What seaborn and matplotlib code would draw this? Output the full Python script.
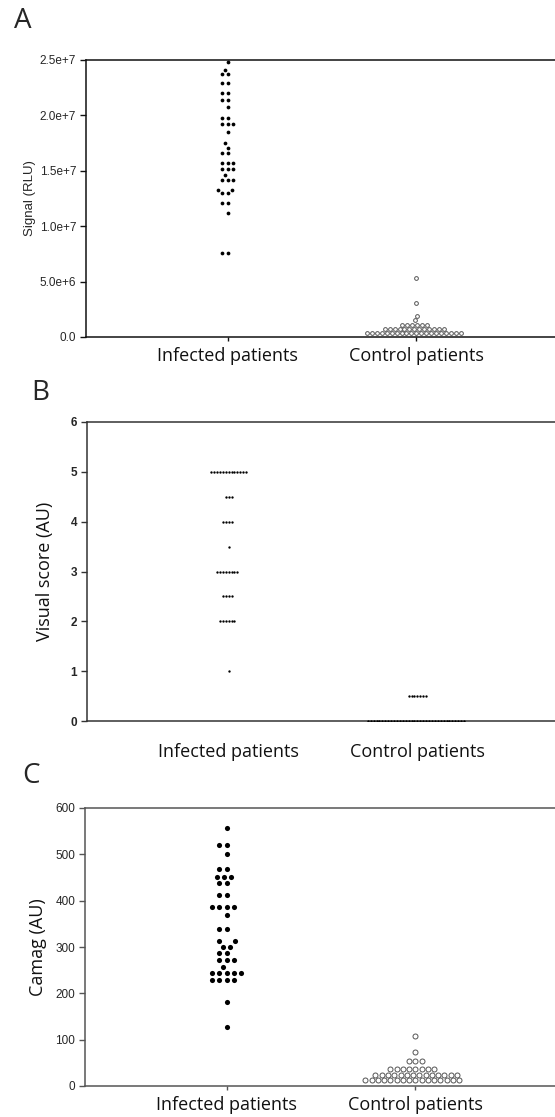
import numpy as np
import pandas as pd
import matplotlib
matplotlib.use("Agg")
import matplotlib.pyplot as plt
import seaborn as sns

# Groups
groups = ["Infected patients", "Control patients"]

# Panel A - signal (RLU), values in millions, with number of patients per level
a_inf_levels = [24.8, 24.1, 23.7, 22.9, 22.0, 21.4, 20.8, 19.8, 19.2, 18.5, 17.5,
                17.1, 16.6, 15.7, 15.2, 14.6, 14.2, 13.3, 13.0, 12.1, 11.2, 7.6]
a_inf_counts = [1, 1, 2, 2, 2, 2, 1, 2, 3, 1, 1,
                1, 2, 3, 3, 1, 3, 2, 2, 2, 1, 2]
a_ctl_levels = [5.3, 3.1, 1.9, 1.5, 1.1, 0.72, 0.33]
a_ctl_counts = [1, 1, 1, 1, 6, 13, 20]
a_ticks = [0, 5e6, 1e7, 1.5e7, 2e7, 2.5e7]
a_ticklabels = ["0.0", "5.0e+6", "1.0e+7", "1.5e+7", "2.0e+7", "2.5e+7"]

# Panel B - visual score (AU)
b_inf_levels = [5, 4.5, 4, 3.5, 3, 2.5, 2, 1]
b_inf_counts = [13, 3, 4, 1, 8, 4, 6, 1]
b_ctl_levels = [0.5, 0]
b_ctl_counts = [7, 34]

# Panel C - Camag (AU)
c_inf_levels = [556, 520, 501, 468, 452, 438, 412, 387, 369, 339, 313, 301,
                288, 272, 256, 243, 228, 182, 127]
c_inf_counts = [1, 2, 1, 2, 3, 2, 2, 4, 1, 2, 2, 2,
                2, 3, 1, 5, 4, 1, 1]
c_ctl_levels = [108, 73, 55, 37, 24.5, 12.5]
c_ctl_counts = [1, 1, 3, 8, 14, 16]


def make_df(levels, counts, group, scale=1.0):
    vals = np.repeat(np.array(levels, dtype=float) * scale, counts)
    return pd.DataFrame({"group": group, "value": vals})


sns.set_style("ticks")
plt.rcParams["font.family"] = ["Liberation Sans", "DejaVu Sans"]

fig = plt.figure(figsize=(5.55, 11.17), dpi=100)

W, H = 555, 1117
clear = (1, 1, 1, 0)  # invisible edge, only keeps a gap between dots


def add_ax(left, top, bottom):
    return fig.add_axes([left / W, 1 - bottom / H, 472 / W, (bottom - top) / H])


big_family = ["Open Sans", "DejaVu Sans"]
label_font = dict(family=big_family, fontsize=13, color="#111111")

# ---------------- Panel A ----------------
axA = add_ax(86, 60, 337)
sns.swarmplot(data=make_df(a_inf_levels, a_inf_counts, groups[0], 1e6), x="group", y="value",
              order=groups, color="black", size=2.7, edgecolor=clear, linewidth=0.9, ax=axA)
sns.swarmplot(data=make_df(a_ctl_levels, a_ctl_counts, groups[1], 1e6), x="group", y="value",
              order=groups, color="white", size=2.7, edgecolor="#555555", linewidth=0.7, ax=axA)
axA.set_ylim(0, 2.5e7)
axA.set_yticks(a_ticks)
axA.set_yticklabels(a_ticklabels, fontsize=8.5)
axA.set_ylabel("Signal (RLU)", fontsize=9.5, labelpad=3)
axA.tick_params(axis="x", length=3, pad=4)

# ---------------- Panel B ----------------
axB = add_ax(87, 422, 721)
sns.swarmplot(data=make_df(b_inf_levels, b_inf_counts, groups[0]), x="group", y="value",
              order=groups, color="black", size=1.7, edgecolor=clear, linewidth=0.3, ax=axB)
sns.swarmplot(data=make_df(b_ctl_levels, b_ctl_counts, groups[1]), x="group", y="value",
              order=groups, color="black", size=1.7, edgecolor=clear, linewidth=0.3, ax=axB)
axB.set_ylim(0, 6)
axB.set_yticks(range(0, 7))
axB.set_yticklabels([str(v) for v in range(0, 7)], fontsize=8.5, fontweight="bold")
axB.set_ylabel("Visual score (AU)", labelpad=12, **label_font)
axB.tick_params(axis="x", length=0, pad=16)

# ---------------- Panel C ----------------
axC = add_ax(85, 808, 1086)
sns.swarmplot(data=make_df(c_inf_levels, c_inf_counts, groups[0]), x="group", y="value",
              order=groups, color="black", size=3.7, edgecolor=clear, linewidth=1.3, ax=axC)
sns.swarmplot(data=make_df(c_ctl_levels, c_ctl_counts, groups[1]), x="group", y="value",
              order=groups, color="white", size=3.6, edgecolor="#555555", linewidth=0.7, ax=axC)
axC.set_ylim(0, 600)
axC.set_yticks(range(0, 601, 100))
axC.set_yticklabels([str(v) for v in range(0, 601, 100)], fontsize=8.5)
axC.set_ylabel("Camag (AU)", labelpad=6, **label_font)
axC.tick_params(axis="x", length=3, pad=4)

for ax, spine_col in [(axA, "#111111"), (axB, "#333333"), (axC, "#555555")]:
    ax.set_xlim(-0.75, 1.75)
    ax.set_xlabel("")
    for side in ["left", "top", "bottom", "right"]:
        ax.spines[side].set_visible(True)
        ax.spines[side].set_color(spine_col)
        ax.spines[side].set_linewidth(1.1)
    ax.tick_params(axis="y", length=4, width=1.0, color=spine_col, pad=3)
    ax.tick_params(axis="x", width=1.0, color=spine_col)
    for lab in ax.get_xticklabels():
        lab.set_fontfamily(big_family)
        lab.set_fontsize(13)
        lab.set_color("#111111")

# Panel letters
fig.text(14 / W, 1 - 28 / H, "A", fontsize=20, family=big_family)
fig.text(31 / W, 1 - 400 / H, "B", fontsize=20, family=big_family)
fig.text(22 / W, 1 - 783 / H, "C", fontsize=20, family=big_family)

fig.savefig("out.png", dpi=100)
